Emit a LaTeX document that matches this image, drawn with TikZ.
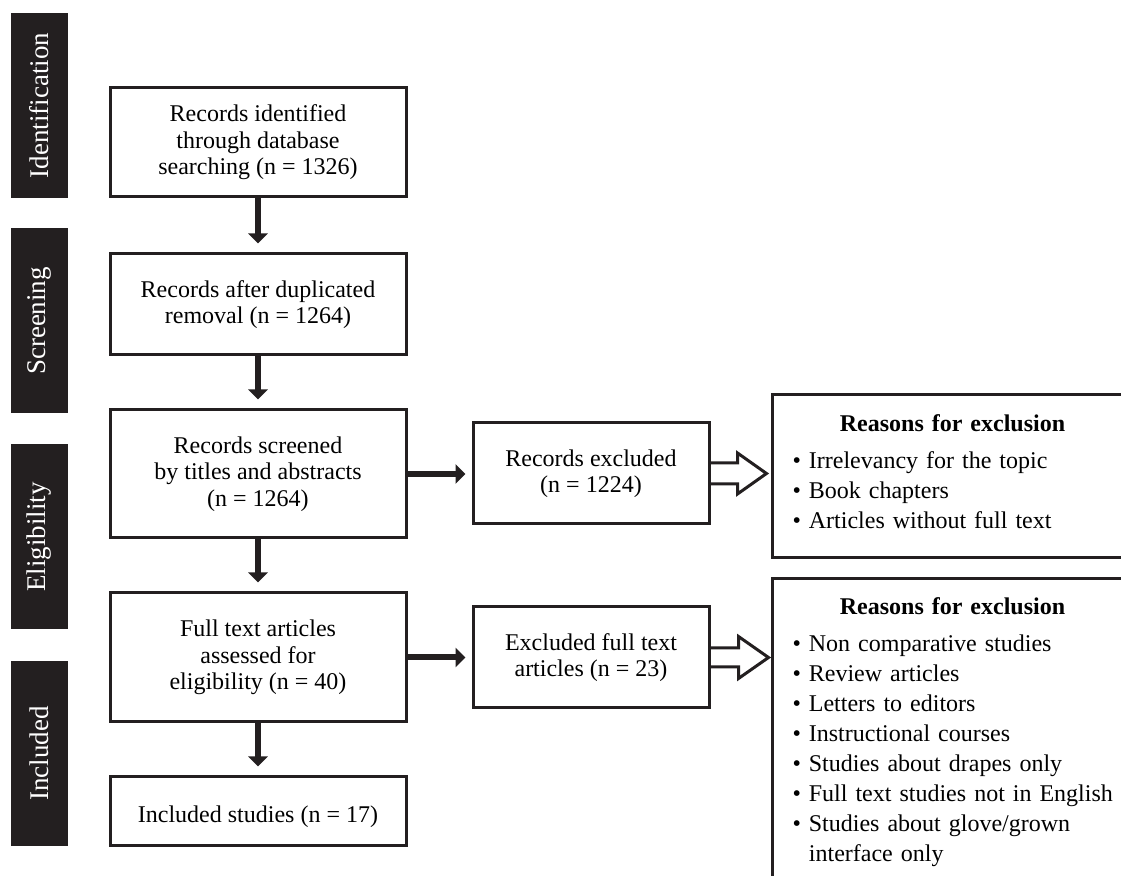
\documentclass[tikz,border=0pt]{standalone}
\usepackage{fontspec}
\setmainfont{Liberation Serif}
\usetikzlibrary{positioning,arrows.meta,calc}
\definecolor{ink}{HTML}{231F20}

\begin{document}
\begin{tikzpicture}[x=0.5pt, y=-0.5pt,
      font=\fontsize{12}{13.25}\selectfont,
      box/.style={draw=ink, line width=1.5pt, minimum width=148pt, align=center, inner sep=2pt,
        execute at begin node=\rule{0pt}{13.5pt}},
      midbox/.style={box, minimum width=118pt, minimum height=50.5pt},
      stage/.style={fill=ink, text=white, minimum width=92.5pt, minimum height=28.5pt, rotate=90, font=\fontsize{13.5}{15}\selectfont},
      why/.style={draw=ink, line width=1.5pt, anchor=north west, text width=180pt, inner xsep=10pt, align=left, font=\fontsize{12}{15}\selectfont},
      arr/.style={ink, line width=3pt, -{Triangle[length=5pt, width=9.5pt]}},
      hollow/.style={draw=ink, line width=1.5pt, line join=miter}]
    \useasboundingbox (0,0) rectangle (1121,876);
    \clip (0,0) rectangle (1121,876);
    % stage bars
    \node[stage] (s1) at (39.5,105.5) {Identification};
    \node[stage] (s2) at (39.5,321) {Screening};
    \node[stage] (s3) at (39.5,537) {Eligibility};
    \node[stage] (s4) at (39.5,753.5) {Included};
    % main column
    \node[box, minimum height=54.5pt] (b1) at (258,142.5) {Records identified\\through database\\searching (n = 1326)};
    \node[box, minimum height=50.5pt] (b2) at (258,304.5) {Records after duplicated\\removal (n = 1264)};
    \node[box, minimum height=64pt] (b3) at (258,474) {Records screened\\by titles and abstracts\\(n = 1264)};
    \node[box, minimum height=64.5pt] (b4) at (258,657.5) {Full text articles\\assessed for\\eligibility (n = 40)};
    \node[box, minimum height=34.5pt] (b5) at (258,811.5) {Included studies (n = 17)};
    % exclusions
    \node[midbox] (e1) at (591,473.5) {Records excluded\\(n = 1224)};
    \node[midbox] (e2) at (591,657.5) {Excluded full text\\articles (n = 23)};
    \node[why, minimum height=81.5pt] (r1) at (771,393) {\makebox[160pt][c]{\textbf{Reasons for exclusion}}\\[3.5pt]
      \textbullet\ Irrelevancy for the topic\\
      \textbullet\ Book chapters\\
      \textbullet\ Articles without full text\\[-11pt]\mbox{}};
    \node[why, minimum height=155pt] (r2) at (771,577) {\makebox[160pt][c]{\textbf{Reasons for exclusion}}\\[3.5pt]
      \textbullet\ Non comparative studies\\
      \textbullet\ Review articles\\
      \textbullet\ Letters to editors\\
      \textbullet\ Instructional courses\\
      \textbullet\ Studies about drapes only\\
      \textbullet\ Full text studies not in English\\
      \textbullet\ Studies about glove/grown\\
      \hphantom{\textbullet\ }interface only\\[-11pt]\mbox{}};
    % arrows
    \draw[arr, shorten >=4.5pt] (b1.south) -- (b2.north);
    \draw[arr, shorten >=4.5pt] (b2.south) -- (b3.north);
    \draw[arr, shorten >=4.5pt] (b3.south) -- (b4.north);
    \draw[arr, shorten >=4.5pt] (b4.south) -- (b5.north);
    \draw[arr, shorten >=3pt] (b3.east) -- (b3.east -| e1.west);
    \draw[arr, shorten >=3pt] (b4.east) -- (b4.east -| e2.west);
    \draw[hollow] ($(e1.east)+(0,-10.5)$) -- ++(27,0) -- ++(0,-10) -- ++(29,20.5) -- ++(-29,20.5) -- ++(0,-10) -- ++(-27,0);
    \draw[hollow] ($(e2.east)+(0,-9.5)$) -- ++(28,0) -- ++(0,-11.5) -- ++(30,21) -- ++(-30,21) -- ++(0,-11.5) -- ++(-28,0);
  \end{tikzpicture}
\end{document}
